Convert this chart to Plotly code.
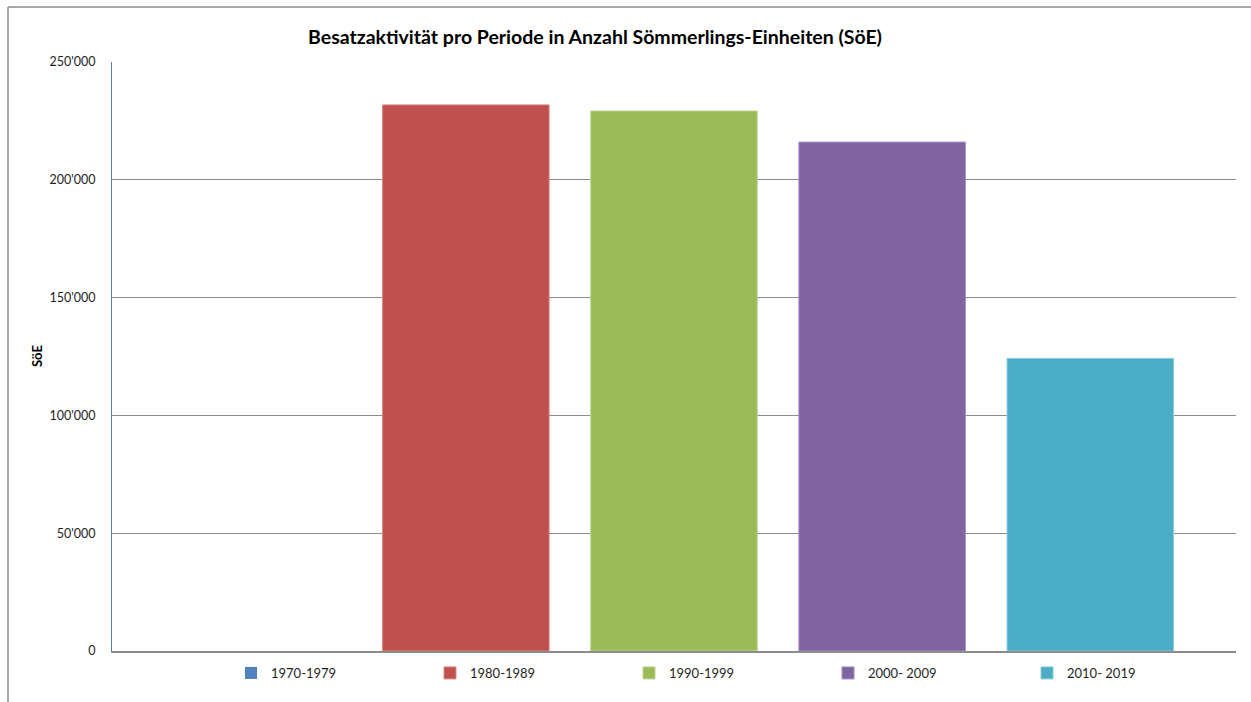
import plotly.graph_objects as go

periods = ["1970-1979", "1980-1989", "1990-1999", "2000- 2009", "2010- 2019"]
values = [0, 231800, 229200, 216000, 124200]
colors = ["#4F81BD", "#C0504D", "#9BBB59", "#8064A2", "#4BACC6"]
border_colors = ["#7A9FD0", "#D98784", "#BCD48E", "#A28DC0", "#8CCBDB"]
tick_vals = [0, 50000, 100000, 150000, 200000, 250000]

title_text = "Besatzaktivität pro Periode in Anzahl Sömmerlings-Einheiten (SöE)"
y_title = "SöE"

W, H = 1251, 702
L, R, T, B = 112, 15, 62, 51

fig = go.Figure()
for i, (p, v, c, bc) in enumerate(zip(periods, values, colors, border_colors)):
    fig.add_trace(go.Bar(
        x=[i], y=[v], name=p, width=0.8,
        marker=dict(color=c, line=dict(color=bc, width=1 if v else 0)),
    ))

pw = W - L - R
ph = H - T - B

def px_x(px):
    return (px - L) / pw

def px_y(py):
    return 1 - (py - T) / ph

fig.update_layout(
    width=W, height=H,
    margin=dict(l=L, r=R, t=T, b=B, autoexpand=False),
    paper_bgcolor="white", plot_bgcolor="white",
    barmode="overlay",
    separators=".'",
    font=dict(family="Lato, 'Open Sans', sans-serif", size=12, color="#262626"),
    title=dict(text="<b>" + title_text + "</b>", x=595 / W,
               xanchor="center", y=1 - 37 / H, yanchor="middle",
               font=dict(size=19.5, color="#000000")),
    xaxis=dict(range=[-0.7, 4.7], showticklabels=False, showgrid=False,
               zeroline=False, showline=True, linecolor="#8C8C8C", linewidth=1.5,
               fixedrange=True, automargin=False),
    yaxis=dict(range=[0, 250000], tickvals=tick_vals, tickformat=",d",
               showgrid=True, gridcolor="#8C8C8C", gridwidth=1,
               zeroline=False, showline=True, linecolor="#5B7FB5", linewidth=1,
               ticks="", ticklabelstandoff=13, automargin=False,
               tickfont=dict(size=12.5, color="#1F1F1F")),
    legend=dict(orientation="h", x=px_x(231), xanchor="left",
                y=px_y(673), yanchor="middle",
                entrywidth=154, entrywidthmode="pixels",
                font=dict(size=13, color="#1F1F1F"),
                itemwidth=30, traceorder="normal"),
    showlegend=True,
    annotations=[
        dict(text="<b>" + y_title + "</b>", xref="paper", yref="paper",
             x=px_x(37), y=px_y(356), textangle=-90, showarrow=False,
             xanchor="center", yanchor="middle",
             font=dict(size=13, color="#000000")),
    ],
    shapes=[
        dict(type="line", xref="paper", yref="paper",
             x0=px_x(8), x1=px_x(1300), y0=px_y(7), y1=px_y(7),
             line=dict(color="#8C8C8C", width=1.5)),
        dict(type="line", xref="paper", yref="paper",
             x0=px_x(8), x1=px_x(8), y0=px_y(7), y1=px_y(760),
             line=dict(color="#8C8C8C", width=1.5)),
    ],
)

fig.write_html("out.html")
